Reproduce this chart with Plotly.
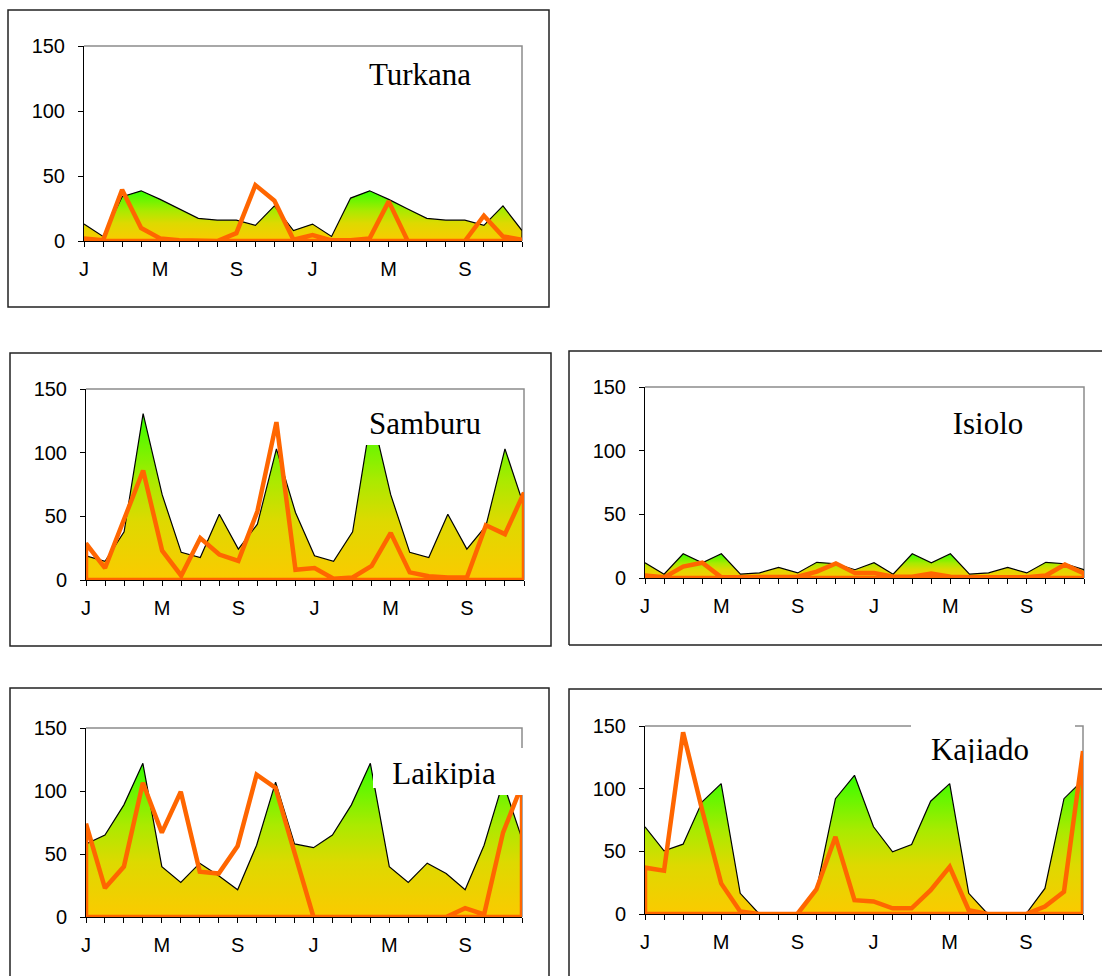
import plotly.graph_objects as go

# ---------------- data ----------------
tick_labels = ["J", "", "", "", "M", "", "", "", "S", "", "", "",
               "J", "", "", "", "M", "", "", "", "S", "", "", ""]
months = list(range(len(tick_labels)))
y_ticks = [0, 50, 100, 150]

districts = ["Turkana", "Samburu", "Isiolo", "Laikipia", "Kajiado"]

turkana_mean = [13, 3.5, 34, 38.6, 32, 24.6, 17.4, 16, 16, 12, 27, 8,
                13, 3.5, 33, 38.6, 32, 24.6, 17.4, 16, 16, 12, 27, 8]
turkana_actual = [2, 0.5, 39.4, 10, 2, 0.5, 0, 0, 6, 43, 31, 1,
                  4.5, 0.5, 0.5, 2, 30.5, 0, 0, 0, 0, 19.5, 3.5, 1]

samburu_mean = [19, 14.6, 37.8, 130.7, 67, 21.7, 17.7, 51.7, 24.3, 43.8, 103, 53,
                19, 14.6, 37.8, 130.7, 67, 21.7, 17.7, 51.7, 24.3, 42.5, 103, 58]
samburu_actual = [28.7, 9.4, 47, 86, 23, 3.4, 33, 20, 15, 54, 124, 8,
                  9.4, 1, 2, 11, 37, 6, 3, 2, 2, 43, 36, 68.6]

isiolo_mean = [12, 3, 19, 12, 19, 3, 4, 8.3, 4, 12.3, 11.2, 6.5,
               12, 3, 19, 12, 19, 3, 4, 8.3, 4, 12.3, 11.2, 6.5]
isiolo_actual = [2, 0.5, 9, 12, 0.5, 0.5, 0.5, 0.5, 1, 5, 11.5, 4,
                 4, 1, 1, 3.5, 1, 0.5, 0.5, 0.5, 0.5, 2, 10.5, 3.5]

laikipia_mean = [58, 65, 89, 122, 40, 27.4, 42.7, 32.7, 21.6, 57, 107, 58,
                 55, 65, 89, 122, 40, 27.4, 42.7, 34.5, 21.6, 57, 107, 62]
laikipia_actual = [74, 23, 40, 106.5, 67, 99.4, 36, 34.5, 56.4, 113, 102.5, 51,
                   0, 0, 0, 0, 0, 0, 0, 0, 7, 2, 67, 105]

kajiado_mean = [69.6, 50.4, 55.7, 89.5, 104, 16.5, 0, 0, 0, 19, 92, 110.7,
                69.6, 49.6, 55.5, 90, 104, 16.5, 0, 0, 0, 20.4, 92, 107]
kajiado_actual = [37, 34.5, 145, 83, 24.4, 2, 0, 0, 0, 19.6, 61.6, 11,
                  10, 4.5, 4.5, 19, 37.7, 3, 0, 0, 0, 6, 17.8, 130]

means = [turkana_mean, samburu_mean, isiolo_mean, laikipia_mean, kajiado_mean]
actuals = [turkana_actual, samburu_actual, isiolo_actual, laikipia_actual, kajiado_actual]

# ---------------- layout geometry (pixels) ----------------
W, H = 1102, 976
# plot areas: left, top, right, bottom
plot_px = [(84, 46, 522, 241), (86, 389, 524, 580), (645, 387, 1084, 578),
           (86, 728, 522, 917), (645, 726, 1083, 914)]
# outer frames (left, top, right, bottom); None = side runs off the page
frame_px = [(8, 10, 549, 307), (10, 353, 551, 646), (569, 351, None, 645),
            (10, 688, 549, None), (569, 689, None, None)]
# white label boxes (left, top, right, bottom) and text centre / baseline
label_box_px = [(355, 58, 490, 100), (360, 400, 492, 445), (940, 400, 1040, 445),
                (373, 748, 530, 788), (911, 712, 1075, 763)]
label_text_px = [(420, 88.5), (425, 437), (988, 437), (444, 787), (980, 763)]
extra_box_px = [(490, 748, 530, 795)]

GREEN_SCALE = [[0.0, "#fbca00"], [0.35, "#ded900"], [0.6, "#aaea00"],
               [0.85, "#62f700"], [1.0, "#33ff00"]]
ORANGE = "#ff6600"
FS = 20
FONT_SANS = "Liberation Sans, Arial, sans-serif"
FONT_SERIF = "Liberation Serif, Times New Roman, serif"


def xdom(l, r):
    return [l / W, r / W]


def ydom(t, b):
    return [1 - b / H, 1 - t / H]


def px(x):
    return x / W


def py(y):
    return 1 - y / H


fig = go.Figure()
layout = dict(width=W, height=H,
              margin=dict(l=0, r=0, t=0, b=0, pad=0, autoexpand=False),
              autosize=False, paper_bgcolor="white", plot_bgcolor="white",
              showlegend=False)
shapes = []

for i, (name, mean, act) in enumerate(zip(districts, means, actuals)):
    k = i + 1
    xa, ya = ("x" if k == 1 else f"x{k}"), ("y" if k == 1 else f"y{k}")
    l, t, r, b = plot_px[i]
    # mean: gradient area
    fig.add_trace(go.Scatter(
        x=months, y=mean, xaxis=xa, yaxis=ya, mode="lines",
        line=dict(color="rgba(0,0,0,0)", width=0), fill="tozeroy",
        fillgradient=dict(type="vertical", colorscale=GREEN_SCALE,
                          start=0, stop=max(mean)),
        hoverinfo="skip"))
    # black outline of mean (top and right edge)
    fig.add_trace(go.Scatter(
        x=months + [months[-1]], y=mean + [0], xaxis=xa, yaxis=ya, mode="lines",
        line=dict(color="black", width=1.2), hoverinfo="skip"))
    # actual rainfall: unfilled area outline (closed polygon)
    fig.add_trace(go.Scatter(
        x=[months[0]] + months + [months[-1], months[0]],
        y=[0] + act + [0, 0], xaxis=xa, yaxis=ya, mode="lines",
        line=dict(color=ORANGE, width=4.5), hoverinfo="skip"))

    axkey = "xaxis" if k == 1 else f"xaxis{k}"
    aykey = "yaxis" if k == 1 else f"yaxis{k}"
    layout[axkey] = dict(domain=xdom(l, r), anchor=ya, range=[months[0], months[-1]],
                         tickmode="array", tickvals=months, ticktext=tick_labels,
                         ticks="outside", ticklen=5, tickcolor="black", tickwidth=1,
                         showline=True, linecolor="black", linewidth=1,
                         showgrid=False, zeroline=False, fixedrange=True,
                         automargin=False, ticklabelstandoff=5,
                         tickfont=dict(family=FONT_SANS, size=FS, color="black"))
    layout[aykey] = dict(domain=ydom(t, b), anchor=xa, range=[0, 150],
                         tickmode="array", tickvals=y_ticks,
                         ticks="outside", ticklen=5, tickcolor="black", tickwidth=1,
                         showline=True, linecolor="black", linewidth=1,
                         showgrid=False, zeroline=False, fixedrange=True,
                         automargin=False, ticklabelstandoff=9,
                         tickfont=dict(family=FONT_SANS, size=FS, color="black"))
    # gray top and right border of plot area
    shapes.append(dict(type="path", xref="paper", yref="paper", layer="below",
                       path=f"M{px(l)},{py(t)} L{px(r)},{py(t)} L{px(r)},{py(b)}",
                       line=dict(color="#8c8c8c", width=1.5)))
    # outer frame (open where it runs off the page)
    fl, ft, fr, fb = frame_px[i]
    frx = px(fr) if fr is not None else 1.0
    fby = py(fb) if fb is not None else 0.0
    segs = [f"M{px(fl)},{fby} L{px(fl)},{py(ft)} L{frx},{py(ft)}"]
    if fr is not None:
        segs.append(f"L{frx},{fby}")
        if fb is not None:
            segs.append("Z")
    elif fb is not None:
        segs.append(f"M{px(fl)},{fby} L{frx},{fby}")
    shapes.append(dict(type="path", xref="paper", yref="paper", layer="below",
                       path=" ".join(segs),
                       line=dict(color="#222222", width=1.5)))

# extra blank white box (drawn first, so the label boxes sit above it)
k = len(districts)
for (bl, bt, br, bb) in extra_box_px:
    k += 1
    fig.add_trace(go.Scatter(x=[None], y=[None], xaxis=f"x{k}", yaxis=f"y{k}",
                             mode="lines", hoverinfo="skip"))
    layout[f"xaxis{k}"] = dict(domain=xdom(bl, br), range=[0, 1], visible=False,
                               anchor=f"y{k}", fixedrange=True)
    layout[f"yaxis{k}"] = dict(domain=ydom(bt, bb), range=[0, 1], visible=False,
                               anchor=f"x{k}", fixedrange=True)

# label boxes as overlapping subplots (their white background hides what is below)
for i, name in enumerate(districts):
    k += 1
    bl, bt, br, bb = label_box_px[i]
    cx, base = label_text_px[i]
    fx = (cx - bl) / (br - bl)
    cy = base - 0.35 * 31
    fy = (bb - cy) / (bb - bt)
    fig.add_trace(go.Scatter(
        x=[fx], y=[fy], xaxis=f"x{k}", yaxis=f"y{k}", mode="text", text=[name],
        textposition="middle center", cliponaxis=True,
        textfont=dict(family=FONT_SERIF, size=31, color="black"), hoverinfo="skip"))
    layout[f"xaxis{k}"] = dict(domain=xdom(bl, br), range=[0, 1], visible=False,
                               anchor=f"y{k}", fixedrange=True)
    layout[f"yaxis{k}"] = dict(domain=ydom(bt, bb), range=[0, 1], visible=False,
                               anchor=f"x{k}", fixedrange=True)

layout["shapes"] = shapes
fig.update_layout(**layout)

fig.write_html("out.html", config={"displayModeBar": False},
               post_script="document.body.style.margin='0';document.body.style.overflow='hidden';")
